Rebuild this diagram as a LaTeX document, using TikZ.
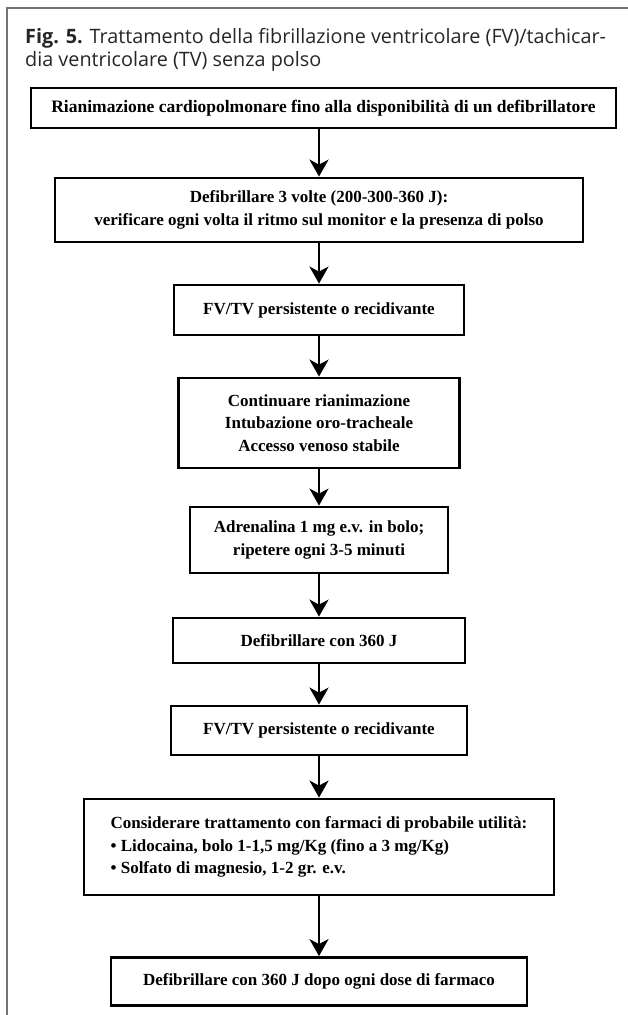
\documentclass[tikz,border=0pt]{standalone}
\usepackage{fontspec}
\setmainfont{Liberation Serif}
\newfontfamily\titlefont{Open Sans}
\usetikzlibrary{arrows.meta}
\tikzset{
  stepbox/.style={draw=black, line width=2.8pt, inner sep=0pt, align=center,
    font=\fontsize{17}{22.5}\selectfont\bfseries},
  flow/.style={line width=2.8pt, -{Stealth[length=17pt,width=19pt,inset=5pt]}},
  frameline/.style={draw=black!55, line width=1.3pt},
  titletext/.style={anchor=base west, inner sep=0pt, font=\titlefont\fontsize{19.8}{23}\selectfont, text=black!85},
}
\begin{document}
\begin{tikzpicture}[x=1pt,y=-1pt]
\useasboundingbox (0,0) rectangle (628,1015);
% column frame: left and top rules only
\draw[frameline] (7,1015) -- (7,8) -- (628,8);

% caption
\node[titletext] (title) at (25,43) {\textbf{Fig. 5.} Trattamento della fibrillazione ventricolare (FV)/tachicar-};
\node[titletext] (title2) at (25,66) {dia ventricolare (TV) senza polso};

% flow chart steps
\node[stepbox, font=\fontsize{17.5}{22.5}\selectfont\bfseries, minimum width=585, minimum height=40] (b1) at (323.5,108)
  {Rianimazione cardiopolmonare fino alla disponibilità di un defibrillatore};
\node[stepbox, minimum width=528, minimum height=64] (b2) at (319,210)
  {Defibrillare 3 volte (200-300-360 J):\\verificare ogni volta il ritmo sul monitor e la presenza di polso};
\node[stepbox, minimum width=290, minimum height=50] (b3) at (319,310)
  {FV/TV persistente o recidivante};
\node[stepbox, minimum width=281, minimum height=90] (b4) at (319,423)
  {Continuare rianimazione\\Intubazione oro-tracheale\\Accesso venoso stabile};
\node[stepbox, minimum width=258, minimum height=66] (b5) at (319,540)
  {Adrenalina 1 mg e.v. in bolo;\\ripetere ogni 3-5 minuti};
\node[stepbox, minimum width=292, minimum height=45] (b6) at (319,640.5)
  {Defibrillare con 360 J};
\node[stepbox, minimum width=296, minimum height=49] (b7) at (319,730.5)
  {FV/TV persistente o recidivante};
\node[stepbox, align=left, minimum width=470, minimum height=96] (b8) at (319,847)
  {Considerare trattamento con farmaci di probabile utilità:\\
   • Lidocaina, bolo 1-1,5 mg/Kg (fino a 3 mg/Kg)\\
   • Solfato di magnesio, 1-2 gr. e.v.};
\node[stepbox, minimum width=416, minimum height=48] (b9) at (319,981.5)
  {Defibrillare con 360 J dopo ogni dose di farmaco};

% connectors
\draw[flow] (b1.south -| b2.north) -- (b2.north);
\foreach \a/\b in {b2/b3,b3/b4,b4/b5,b5/b6,b6/b7,b7/b8,b8/b9}
  \draw[flow] (\a.south) -- (\b.north);
\end{tikzpicture}
\end{document}
